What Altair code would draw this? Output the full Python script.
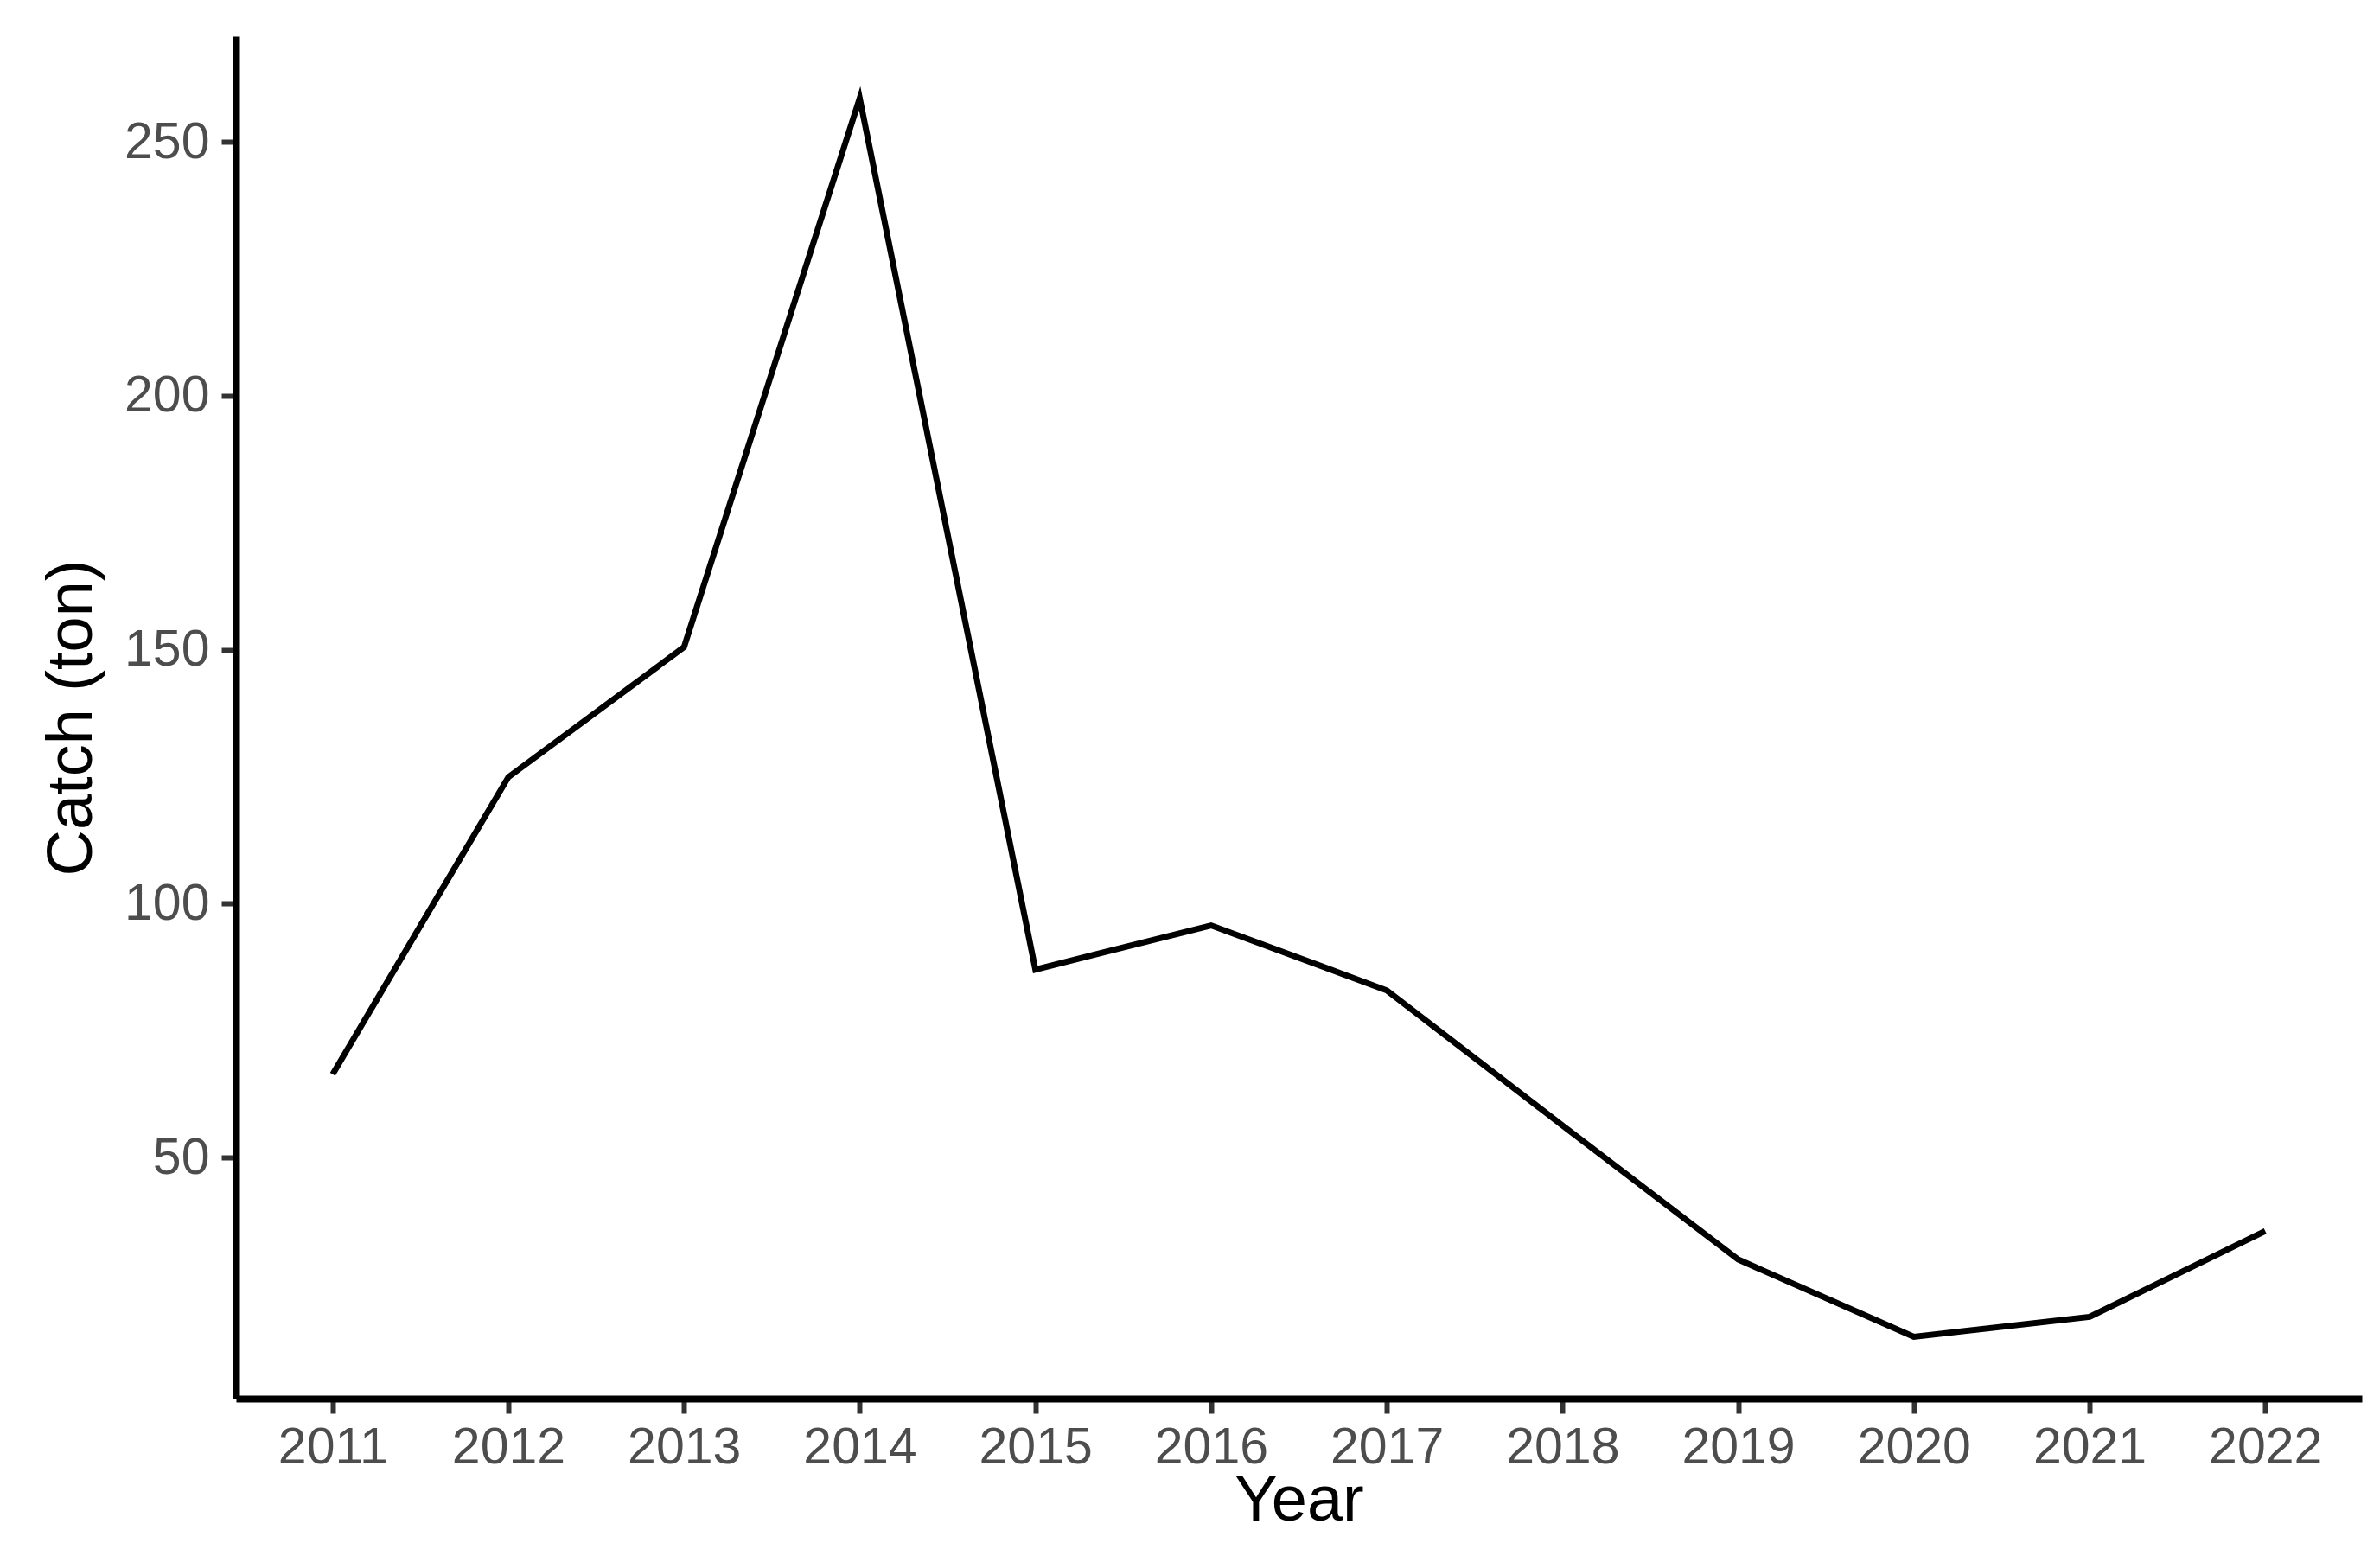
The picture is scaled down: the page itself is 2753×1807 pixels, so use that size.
import altair as alt
import pandas as pd

years = [2011, 2012, 2013, 2014, 2015, 2016, 2017, 2018, 2019, 2020, 2021, 2022]
catch = [66.4, 124.9, 150.5, 258.6, 87.0, 95.7, 82.9, 56.3, 29.9, 14.7, 18.6, 35.5]
y_ticks = [50, 100, 150, 200, 250]

df = pd.DataFrame({"Year": years, "Catch": catch})

# ggplot-like 5% expansion of the data range
xr = max(years) - min(years)
x_dom = [min(years) - 0.05 * xr, max(years) + 0.05 * xr]
yr = max(catch) - min(catch)
y_dom = [min(catch) - 0.05 * yr, max(catch) + 0.05 * yr]

FONT = "Liberation Sans"

chart = (
    alt.Chart(df)
    .mark_line(color="black", strokeWidth=7)
    .encode(
        x=alt.X(
            "Year:Q",
            scale=alt.Scale(domain=x_dom, nice=False, zero=False),
            axis=alt.Axis(
                values=years,
                format="d",
                title="Year",
                grid=False,
                domainColor="black",
                domainWidth=8,
                tickColor="#333333",
                tickWidth=6,
                tickSize=17,
                labelFont=FONT,
                labelFontSize=59,
                labelColor="#4D4D4D",
                labelPadding=10,
                titleFont=FONT,
                titleFontSize=74,
                titleFontWeight="normal",
                titleColor="black",
                titleBaseline="alphabetic",
                titleY=140,
                labelFlush=False,
            ),
        ),
        y=alt.Y(
            "Catch:Q",
            scale=alt.Scale(domain=y_dom, nice=False, zero=False),
            axis=alt.Axis(
                values=y_ticks,
                title="Catch (ton)",
                grid=False,
                domainColor="black",
                domainWidth=8,
                tickColor="#333333",
                tickWidth=6,
                tickSize=17,
                labelFont=FONT,
                labelFontSize=59,
                labelColor="#4D4D4D",
                labelPadding=14,
                titleFont=FONT,
                titleFontSize=74,
                titleFontWeight="normal",
                titleColor="black",
                titlePadding=22,
                labelFlush=False,
            ),
        ),
    )
    .properties(
        width=2459,
        height=1576,
        autosize=alt.AutoSizeParams(type="none"),
        padding={"left": 265, "top": 34, "right": 10, "bottom": 180},
    )
    .configure(background="white", view=alt.ViewConfig(stroke="transparent", strokeWidth=0))
)

chart.save("out.html", embed_options={"renderer": "svg", "actions": False})
